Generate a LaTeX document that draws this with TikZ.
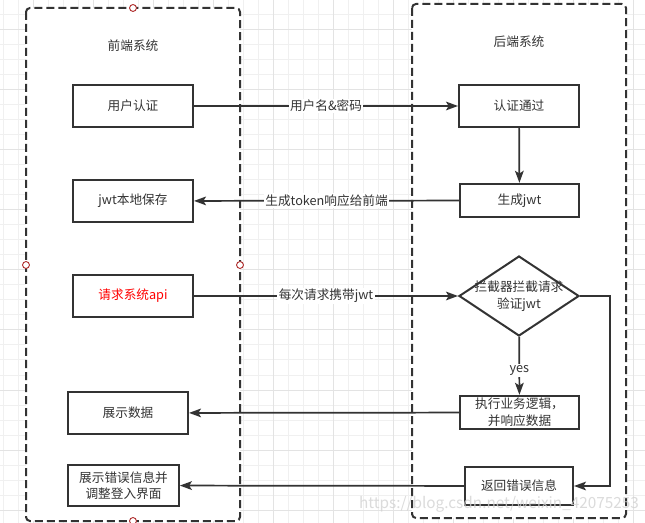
\documentclass[tikz,border=0pt]{standalone}
\usepackage{fontspec}
\setmainfont{Noto Sans CJK SC}
\usetikzlibrary{shapes.geometric,arrows.meta}
\definecolor{linegray}{HTML}{333333}
\definecolor{gridminor}{HTML}{F0F0F0}
\definecolor{gridmajor}{HTML}{E3E3E3}
\definecolor{handlered}{HTML}{B03030}

\begin{document}
\begin{tikzpicture}[x=0.75pt,y=-0.75pt,
  every node/.style={font=\fontsize{9.5pt}{12.5pt}\selectfont, text=linegray},
  box/.style={rectangle, draw=linegray, line width=1.5pt, fill=white, minimum width=90pt, minimum height=31.5pt, align=center, inner sep=0pt},
  decision/.style={diamond, draw=linegray, line width=1.5pt, fill=white, minimum width=90pt, minimum height=60pt, inner sep=0pt},
  container/.style={draw=linegray, line width=1.5pt, dash pattern=on 6pt off 3pt, rounded corners=3pt, fill=white},
  flow/.style={draw=linegray, line width=1.3pt, -{Stealth[length=9pt,width=6.5pt,inset=2pt]}},
  flowlabel/.style={fill=white, inner sep=1pt},
  handle/.style={draw=handlered, line width=0.7pt, fill=white}]
\useasboundingbox (0,0) rectangle (645,523);
\fill[white] (0,0) rectangle (645,523);
\foreach \i in {0,...,42} \draw[gridminor, line width=0.75pt] ({3.3+15*\i},0) -- ({3.3+15*\i},523);
\foreach \j in {0,...,34} \draw[gridminor, line width=0.75pt] (0,{15*\j}) -- (645,{15*\j});
\foreach \i in {0,...,10} \draw[gridmajor, line width=0.75pt] ({33.3+60*\i},0) -- ({33.3+60*\i},523);
\foreach \j in {0,...,8} \draw[gridmajor, line width=0.75pt] (0,{30+60*\j}) -- (645,{30+60*\j});

\draw[container] (26,8) rectangle (240,521);
\draw[container] (412,4) rectangle (626,518);
\node (fronttitle) at (133,46) {前端系统};
\node (backtitle) at (519,42) {后端系统};

\node[box] (login) at (133,106) {用户认证};
\node[box] (verified) at (519,106) {认证通过};
\node[box, minimum width=89pt, minimum height=25pt] (genjwt) at (519.5,200.5) {生成jwt};
\node[box] (savejwt) at (133,201) {jwt本地保存};
\node[box] (request) at (133,296) {\textcolor{red}{请求系统api}};
\node[decision] (check) at (519,296) {};
\node[align=center, inner sep=0pt] (checktext) at (519,296) {拦截器拦截请求\\验证jwt};
\node[box, minimum width=89pt, minimum height=25pt] (execute) at (519.5,412.5) {执行业务逻辑，\\并响应数据};
\node[box] (showdata) at (128,413) {展示数据};
\node[box, minimum width=83pt, minimum height=31pt] (showerror) at (123.5,485.5) {展示错误信息并\\调整登入界面};
\node[box, minimum width=81pt, minimum height=28.5pt] (returnerror) at (519,486) {返回错误信息};

\draw[flow] (login) -- node[flowlabel] {用户名\&密码} (verified);
\draw[flow] (verified) -- (genjwt);
\draw[flow] (genjwt) -- node[flowlabel] {生成token响应给前端} (savejwt);
\draw[flow] (request) -- node[flowlabel] {每次请求携带jwt} (check);
\draw[flow] (check) -- node[flowlabel, pos=0.58] {yes} (execute);
\draw[flow] (execute) -- (showdata);
\draw[flow] (check.east) -- ++(30,0) |- (returnerror.east);
\draw[flow] (returnerror) -- (showerror);

\draw[handle] (133,8) circle[radius=2.6pt];
\draw[handle] (26,265) circle[radius=2.6pt];
\draw[handle] (240,265) circle[radius=2.6pt];
\draw[handle] (133,521) circle[radius=2.6pt];

\node[font=\fontsize{11.5pt}{13pt}\selectfont, text=gray!35, opacity=0.8] (watermark) at (499,504) {https://blog.csdn.net/weixin\_42075253};
\end{tikzpicture}
\end{document}
